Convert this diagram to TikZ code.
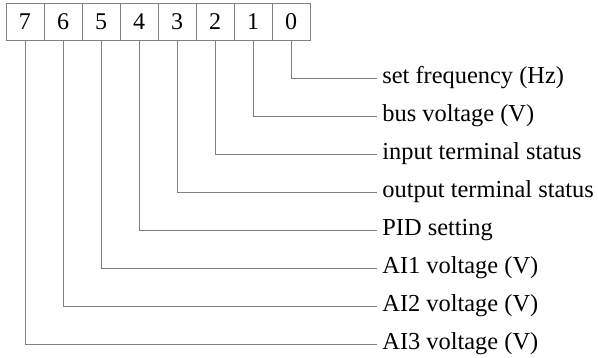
\documentclass[tikz,border=0pt]{standalone}
\usepackage{fontspec}
\setmainfont{Liberation Serif}
\begin{document}
\begin{tikzpicture}[x=1pt,y=-1pt,line width=0.8pt]
    \tikzset{
        bitbox/.style={draw=black!50, minimum width=38pt, minimum height=37pt, inner sep=0pt, font=\fontsize{24}{28}\selectfont},
        desc/.style={anchor=west, inner sep=0pt, font=\fontsize{24.4}{29}\selectfont},
        wire/.style={draw=black!50}
    }
    \useasboundingbox (0,0) rectangle (598,357);

    % Bits of the register
    \foreach \d [count=\k from 0] in {7,6,5,4,3,2,1,0} {
        \node[bitbox] (bit\d) at ({25+38*\k},21.5) {\d};
    }

    % Descriptions and leader lines
    \foreach \d/\txt in {0/set frequency (Hz), 1/bus voltage (V), 2/input terminal status, 3/output terminal status, 4/PID setting, 5/AI1 voltage (V), 6/AI2 voltage (V), 7/AI3 voltage (V)} {
        \node[desc] (lab\d) at (382,{78+38*\d}) {\txt};
        \draw[wire] (bit\d.south) |- ([xshift=-5pt]lab\d.west);
    }
\end{tikzpicture}
\end{document}
